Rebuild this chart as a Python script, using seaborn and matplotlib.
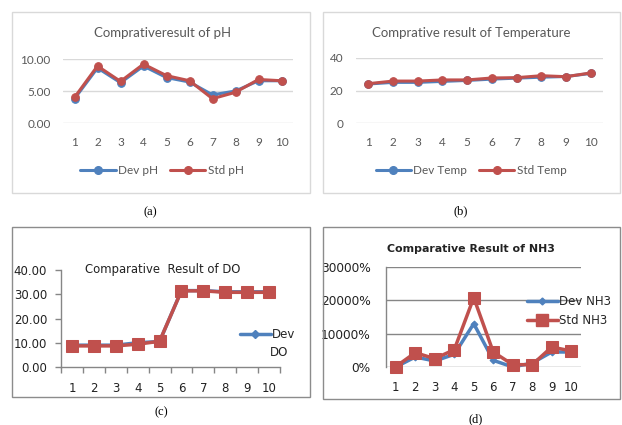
import matplotlib
matplotlib.use("Agg")
import matplotlib.pyplot as plt
import seaborn as sns
import pandas as pd
import numpy as np
from matplotlib.patches import Rectangle
from matplotlib.lines import Line2D
from matplotlib.ticker import FuncFormatter, FixedLocator

sns.set_theme(style="white")
plt.rcParams['font.family'] = ['Lato', 'DejaVu Sans']

# ---------------- data ----------------
samples = list(range(1, 11))
dev_ph = [3.8, 8.6, 6.3, 8.9, 7.1, 6.4, 4.4, 5.0, 6.6, 6.6]
std_ph = [4.0, 8.9, 6.5, 9.2, 7.4, 6.6, 3.8, 4.8, 6.8, 6.6]
dev_temp = [24.0, 25.0, 25.0, 25.6, 26.2, 27.0, 27.6, 28.2, 28.6, 30.5]
std_temp = [24.2, 25.8, 25.8, 26.5, 26.5, 27.7, 27.9, 29.1, 28.5, 30.8]
dev_do = [9.0, 9.0, 9.0, 10.0, 10.5, 31.5, 31.5, 31.0, 31.0, 31.0]
std_do = [8.7, 8.7, 8.7, 9.4, 10.6, 31.4, 31.4, 30.8, 30.8, 30.8]
dev_nh3 = [0, 3000, 1800, 3800, 13000, 2000, 0, 1200, 4500, 4500]   # percent
std_nh3 = [100, 4300, 2500, 5200, 20800, 4500, 700, 700, 6000, 4800]  # percent

titles = ["Comprativeresult of pH", "Comprative result of Temperature",
          "Comparative  Result of DO", "Comparative Result of NH3"]
captions = ["(a)", "(b)", "(c)", "(d)"]

BLUE = "#4F81BD"
RED = "#C0504D"
W, H = 622, 425

fig = plt.figure(figsize=(W / 100, H / 100), dpi=100)
fig.patch.set_facecolor("white")


def ax_px(x0, y0, x1, y1):
    return fig.add_axes([x0 / W, 1 - y1 / H, (x1 - x0) / W, (y1 - y0) / H])


def box_px(x0, y0, x1, y1, color):
    fig.patches.append(Rectangle((x0 / W, 1 - y1 / H), (x1 - x0) / W, (y1 - y0) / H,
                                 transform=fig.transFigure, fill=False,
                                 edgecolor=color, linewidth=1.0))


def draw_pair(ax, dev, std, names, dev_marker, std_marker, dev_ms, std_ms, lw=2.2):
    df = pd.DataFrame({"x": samples * 2, "y": dev + std,
                       "s": [names[0]] * 10 + [names[1]] * 10})
    sns.lineplot(data=df[df.s == names[0]], x="x", y="y", ax=ax, color=BLUE,
                 marker=dev_marker, markersize=dev_ms, markeredgecolor=BLUE,
                 linewidth=lw, clip_on=False, legend=False)
    sns.lineplot(data=df[df.s == names[1]], x="x", y="y", ax=ax, color=RED,
                 marker=std_marker, markersize=std_ms, markeredgecolor=RED,
                 linewidth=lw, clip_on=False, legend=False)
    ax.set_xlabel("")
    ax.set_ylabel("")


# ---------- panel boxes ----------
box_px(12, 12, 310, 193, "#D9D9D9")
box_px(323, 12, 620, 193, "#D9D9D9")
box_px(12, 227, 310, 397, "#8C8C8C")
box_px(323, 227, 620, 399, "#8C8C8C")

# ---------- (a) pH ----------
ax = ax_px(63, 59, 293, 123)
draw_pair(ax, dev_ph, std_ph, ["Dev pH", "Std pH"], "o", "o", 5.5, 5.5)
ax.set_xlim(0.5, 10.5)
ax.set_ylim(0, 10)
ax.set_yticks([0, 5, 10])
ax.yaxis.set_major_formatter(FuncFormatter(lambda v, p: f"{v:.2f}"))
ax.set_xticks(samples)
ax.grid(axis="y", color="#D9D9D9", linewidth=1)
ax.grid(axis="x", visible=False)
for s in ax.spines.values():
    s.set_visible(False)
ax.tick_params(axis="both", length=0, labelsize=8.5, colors="#595959")
ax.tick_params(axis="x", pad=10)
ax.tick_params(axis="y", pad=9)
fig.text(162 / W, 1 - 33 / H, titles[0], ha="center", va="center", fontsize=9.5, color="#595959")
fig.legend(handles=[Line2D([], [], color=BLUE, lw=2.2, marker="o", ms=5.5),
                    Line2D([], [], color=RED, lw=2.2, marker="o", ms=5.5)],
           labels=["Dev pH", "Std pH"], loc="center", bbox_to_anchor=(162 / W, 1 - 171 / H),
           ncol=2, frameon=False, fontsize=8.5, handlelength=3.0, handletextpad=0.2,
           columnspacing=1.0, labelcolor="#595959")

# ---------- (b) Temperature ----------
ax = ax_px(356, 58, 603, 123)
draw_pair(ax, dev_temp, std_temp, ["Dev Temp", "Std Temp"], "o", "o", 5.5, 5.5)
ax.set_xlim(0.5, 10.5)
ax.set_ylim(0, 40)
ax.set_yticks([0, 20, 40])
ax.set_xticks(samples)
ax.grid(axis="y", color="#D9D9D9", linewidth=1)
ax.grid(axis="x", visible=False)
for s in ax.spines.values():
    s.set_visible(False)
ax.tick_params(axis="both", length=0, labelsize=8.5, colors="#595959")
ax.tick_params(axis="x", pad=10)
ax.tick_params(axis="y", pad=9)
fig.text(471 / W, 1 - 33 / H, titles[1], ha="center", va="center", fontsize=9.5, color="#595959")
fig.legend(handles=[Line2D([], [], color=BLUE, lw=2.2, marker="o", ms=5.5),
                    Line2D([], [], color=RED, lw=2.2, marker="o", ms=5.5)],
           labels=["Dev Temp", "Std Temp"], loc="center", bbox_to_anchor=(471 / W, 1 - 171 / H),
           ncol=2, frameon=False, fontsize=8.5, handlelength=3.0, handletextpad=0.2,
           columnspacing=1.0, labelcolor="#595959")

# ---------- (c) DO ----------
ax = ax_px(61, 270, 280, 367)
draw_pair(ax, dev_do, std_do, ["Dev DO", "Std DO"], "D", "s", 4.5, 8.5, lw=2.5)
ax.set_xlim(0.5, 10.5)
ax.set_ylim(0, 40)
ax.set_yticks([0, 10, 20, 30, 40])
ax.yaxis.set_major_formatter(FuncFormatter(lambda v, p: f"{v:.2f}"))
ax.set_xticks(samples)
ax.xaxis.set_minor_locator(FixedLocator(np.arange(0.5, 11, 1)))
ax.grid(False)
for k in ["top", "right"]:
    ax.spines[k].set_visible(False)
for k in ["left", "bottom"]:
    ax.spines[k].set_color("#868686")
    ax.spines[k].set_linewidth(1)
ax.tick_params(axis="x", which="major", length=0, pad=11, labelsize=8.5, labelcolor="#222222",
               labelfontfamily="DejaVu Sans")
ax.tick_params(axis="x", which="minor", length=4, width=1, color="#868686", bottom=True, direction="out")
ax.tick_params(axis="y", which="major", length=4, width=1, color="#868686", left=True, pad=6,
               labelsize=8.5, labelcolor="#222222", labelfontfamily="DejaVu Sans")
fig.text(163 / W, 1 - 269 / H, titles[2], ha="center", va="center", fontsize=8.4,
         color="#222222", family="DejaVu Sans")
ax.legend(handles=[Line2D([], [], color=BLUE, lw=2.5, marker="D", ms=4.5)], labels=["Dev"],
          loc="center left", bbox_to_anchor=(234 / W, 1 - 335 / H), bbox_transform=fig.transFigure,
          frameon=False, handlelength=2.6, handletextpad=0.1, borderpad=0,
          prop={"family": "DejaVu Sans", "size": 8.5})
fig.text(270 / W, 1 - 353 / H, "DO", ha="left", va="center", fontsize=8.5,
         color="#222222", family="DejaVu Sans")

# ---------- (d) NH3 ----------
ax = ax_px(386, 267, 581, 367)
draw_pair(ax, dev_nh3, std_nh3, ["Dev NH3", "Std NH3"], "D", "s", 3.5, 8.5, lw=2.5)
ax.set_xlim(0.5, 10.5)
ax.set_ylim(0, 30000)
ax.set_yticks([0, 10000, 20000, 30000])
ax.yaxis.set_major_formatter(FuncFormatter(lambda v, p: f"{v:.0f}%"))
ax.set_xticks(samples)
ax.grid(axis="y", color="#868686", linewidth=1)
ax.grid(axis="x", visible=False)
for k in ["top", "right", "bottom"]:
    ax.spines[k].set_visible(False)
ax.spines["left"].set_color("#868686")
ax.spines["left"].set_linewidth(1)
ax.tick_params(axis="x", length=0, pad=10, labelsize=8.5, labelcolor="#222222",
               labelfontfamily="DejaVu Sans")
ax.tick_params(axis="y", length=0, pad=11, labelsize=8.7, labelcolor="#222222",
               labelfontfamily="DejaVu Sans")
fig.text(471 / W, 1 - 249 / H, titles[3], ha="center", va="center", fontsize=7.9,
         color="#222222", family="DejaVu Sans", fontweight="bold")
ax.legend(handles=[Line2D([], [], color=BLUE, lw=2.5, marker="D", ms=3.5),
                   Line2D([], [], color=RED, lw=2.5, marker="s", ms=8.5)],
          labels=["Dev NH3", "Std NH3"], loc="upper left",
          bbox_to_anchor=(521 / W, 1 - 289 / H), bbox_transform=fig.transFigure,
          frameon=False, handlelength=2.6, handletextpad=0.1, borderpad=0, labelspacing=0.5,
          prop={"family": "DejaVu Sans", "size": 8.5})

# ---------- captions ----------
for (cx, cy), cap in zip([(150, 212), (461, 211), (161, 412), (476, 419)], captions):
    fig.text(cx / W, 1 - cy / H, cap, ha="center", va="center", fontsize=9,
             family="Liberation Serif", color="black")

fig.savefig("out.png", dpi=100, facecolor="white")
